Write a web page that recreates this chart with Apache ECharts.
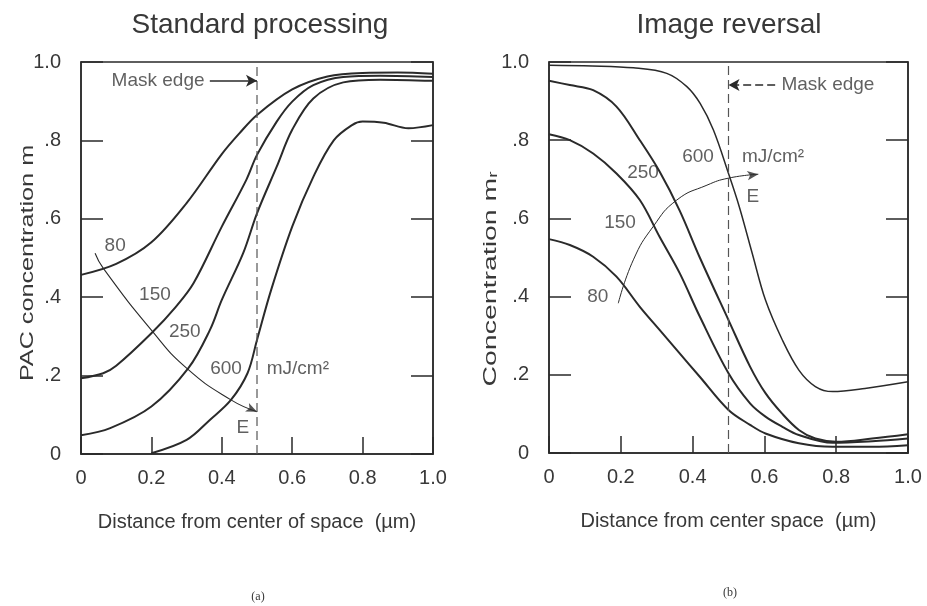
<!DOCTYPE html>
<html>
<head>
<meta charset="utf-8">
<script src="https://cdn.jsdelivr.net/npm/echarts@6/dist/echarts.min.js"></script>
<style>
html,body{margin:0;padding:0;background:#fff;}
#chart{width:927px;height:606px;}
</style>
</head>
<body>
<div id="chart"></div>
<script>
// ---------- data ----------
const xTickLabels = ['0', '0.2', '0.4', '0.6', '0.8', '1.0'];
const yTickLabels = ['0', '.2', '.4', '.6', '.8', '1.0'];

// (a) Standard processing: PAC concentration vs distance
const std80  = [[0,0.457],[0.1,0.485],[0.2,0.54],[0.3,0.64],[0.4,0.765],[0.45,0.818],[0.5,0.865],[0.6,0.93],[0.7,0.963],[0.8,0.972],[0.9,0.973],[1.0,0.97]];
const std150 = [[0,0.193],[0.063,0.206],[0.1,0.225],[0.2,0.308],[0.27,0.376],[0.32,0.436],[0.4,0.58],[0.47,0.70],[0.5,0.763],[0.556,0.848],[0.6,0.899],[0.66,0.941],[0.745,0.962],[0.85,0.965],[1.0,0.962]];
const std250 = [[0,0.048],[0.083,0.066],[0.2,0.121],[0.305,0.219],[0.366,0.316],[0.4,0.393],[0.461,0.513],[0.5,0.614],[0.556,0.733],[0.6,0.827],[0.66,0.907],[0.745,0.948],[0.85,0.955],[1.0,0.952]];
const std600 = [[0.2,0.002],[0.3,0.036],[0.366,0.087],[0.426,0.138],[0.473,0.206],[0.5,0.291],[0.54,0.418],[0.6,0.58],[0.66,0.707],[0.718,0.80],[0.77,0.839],[0.8,0.848],[0.86,0.845],[0.93,0.831],[1.0,0.839]];
const stdArrow = [[0.04,0.512],[0.063,0.474],[0.2,0.316],[0.3,0.219],[0.426,0.138],[0.5,0.108]];
const stdLabels = [[0.097,0.531,'80'],[0.21,0.406,'150'],[0.295,0.311,'250'],[0.412,0.217,'600'],[0.616,0.217,'mJ/cm²'],[0.46,0.066,'E'],[0.219,0.952,'Mask edge']];
const stdMaskArrow = [[0.366,0.952],[0.5,0.952]];

// (b) Image reversal: concentration m_r vs distance
const rev80  = [[0,0.547],[0.058,0.532],[0.123,0.502],[0.188,0.451],[0.253,0.374],[0.308,0.315],[0.364,0.255],[0.42,0.195],[0.5,0.11],[0.56,0.072],[0.603,0.05],[0.696,0.025],[0.79,0.016],[0.9,0.016],[1.0,0.02]];
const rev150 = [[0,0.815],[0.058,0.80],[0.123,0.766],[0.188,0.715],[0.253,0.647],[0.308,0.553],[0.364,0.46],[0.42,0.349],[0.5,0.204],[0.56,0.127],[0.603,0.093],[0.65,0.067],[0.696,0.046],[0.79,0.026],[0.9,0.03],[1.0,0.037]];
const rev250 = [[0,0.952],[0.058,0.941],[0.123,0.928],[0.188,0.886],[0.253,0.80],[0.308,0.72],[0.364,0.62],[0.42,0.50],[0.5,0.34],[0.56,0.221],[0.603,0.153],[0.65,0.10],[0.696,0.059],[0.742,0.037],[0.8,0.029],[0.9,0.037],[1.0,0.048]];
const rev600 = [[0,0.992],[0.12,0.99],[0.235,0.985],[0.328,0.971],[0.384,0.937],[0.421,0.894],[0.458,0.826],[0.5,0.715],[0.53,0.63],[0.566,0.511],[0.603,0.391],[0.65,0.289],[0.696,0.212],[0.742,0.17],[0.79,0.157],[0.88,0.165],[1.0,0.182]];
const revArrow = [[0.193,0.383],[0.235,0.494],[0.29,0.579],[0.356,0.647],[0.44,0.685],[0.5,0.703],[0.583,0.713]];
const revLabels = [[0.136,0.40,'80'],[0.198,0.588,'150'],[0.262,0.716,'250'],[0.415,0.757,'600'],[0.624,0.757,'mJ/cm²'],[0.568,0.655,'E'],[0.777,0.941,'Mask edge']];
const revMaskArrow = [[0.63,0.941],[0.5,0.941]];

const maskEdgeX = 0.5;

// ---------- styling ----------
const FONT = '"Liberation Sans", Arial, Helvetica, sans-serif';
const TXT = '#383838';
const LINE = '#2a2a2a';

const chart = echarts.init(document.getElementById('chart'), null, {renderer: 'canvas'});

function xAxisFor(gi, name) {
  return {
    gridIndex: gi, type: 'value', min: 0, max: 1, interval: 0.2,
    axisLine: {show: true, lineStyle: {color: LINE, width: 1.5}},
    axisTick: {show: true, inside: true, length: 17, lineStyle: {color: LINE, width: 1.5}},
    axisLabel: {formatter: v => xTickLabels[Math.round(v * 5)], fontSize: 20, color: TXT, margin: 14, fontFamily: FONT},
    splitLine: {show: false},
    name: name, nameLocation: 'middle', nameGap: 58,
    nameTextStyle: {fontSize: 20, color: TXT, fontFamily: FONT}
  };
}
function yAxisFor(gi, pos) {
  const left = pos === 'left';
  return {
    gridIndex: gi, type: 'value', min: 0, max: 1, interval: 0.2, position: pos,
    axisLine: {show: true, lineStyle: {color: LINE, width: 1.5}},
    axisTick: {show: true, inside: true, length: 22, lineStyle: {color: LINE, width: 1.5}},
    axisLabel: {show: left, formatter: v => yTickLabels[Math.round(v * 5)], fontSize: 20, color: TXT, margin: 20, fontFamily: FONT},
    splitLine: {show: false}
  };
}
function curve(data, xi, yi, w) {
  return {type: 'line', data: data, xAxisIndex: xi, yAxisIndex: yi, smooth: 0.35,
    showSymbol: false, silent: true, lineStyle: {color: LINE, width: w || 2}};
}
function labelSeries(data, xi, yi) {
  return {type: 'scatter', data: data, xAxisIndex: xi, yAxisIndex: yi, symbolSize: 1, silent: true,
    itemStyle: {color: 'rgba(0,0,0,0)'},
    label: {show: true, position: 'inside', formatter: p => p.data[2], fontSize: 19, color: TXT, fontFamily: FONT}};
}
function arrowHead(pt, rot, xi, yi) {
  return {type: 'scatter', data: [pt], xAxisIndex: xi, yAxisIndex: yi, symbol: 'arrow', symbolSize: [7, 11],
    symbolRotate: rot, silent: true, itemStyle: {color: LINE}};
}
function maskSeries(xi, yi, arrowPts, dashed) {
  return {type: 'line', data: [[maskEdgeX, 0], [maskEdgeX, 1]], xAxisIndex: xi, yAxisIndex: yi,
    showSymbol: false, silent: true, lineStyle: {color: '#555', width: 1.2, type: [9, 5]},
    markLine: {silent: true, symbol: ['none', 'arrow'], symbolSize: [9, 11], label: {show: false},
      lineStyle: {color: LINE, width: 1.5, type: dashed ? [8, 4] : 'solid'},
      data: [[{coord: arrowPts[0]}, {coord: arrowPts[1]}]]}};
}

function buildOption(rotA, rotB) {
  return {
    animation: false,
    backgroundColor: '#fff',
    textStyle: {fontFamily: FONT},
    title: [
      {text: 'Standard processing', left: 255, top: 6, textAlign: 'center',
        textStyle: {fontSize: 28, fontWeight: 'normal', color: TXT, fontFamily: FONT}},
      {text: 'Image reversal', left: 724, top: 6, textAlign: 'center',
        textStyle: {fontSize: 28, fontWeight: 'normal', color: TXT, fontFamily: FONT}}
    ],
    grid: [
      {left: 81, top: 62, width: 352, height: 392, show: true, borderColor: LINE, borderWidth: 1.5, backgroundColor: 'transparent'},
      {left: 549, top: 62, width: 359, height: 391, show: true, borderColor: LINE, borderWidth: 1.5, backgroundColor: 'transparent'}
    ],
    xAxis: [xAxisFor(0, 'Distance from center of space  (µm)'), xAxisFor(1, 'Distance from center space  (µm)')],
    yAxis: [yAxisFor(0, 'left'), yAxisFor(0, 'right'), yAxisFor(1, 'left'), yAxisFor(1, 'right')],
    graphic: [
      {type: 'text', x: 28, y: 263, rotation: Math.PI / 2, scaleX: 1.4, silent: true,
        style: {text: 'PAC concentration m', fontSize: 18, fontFamily: FONT, fill: TXT,
          align: 'center', verticalAlign: 'middle', textAlign: 'center', textVerticalAlign: 'middle'}},
      {type: 'text', x: 491, y: 279, rotation: Math.PI / 2, scaleX: 1.58, silent: true,
        style: {text: 'Concentration m{sub|r}', fontSize: 18, fontFamily: FONT, fill: TXT,
          align: 'center', verticalAlign: 'middle', textAlign: 'center', textVerticalAlign: 'middle',
          rich: {sub: {fontSize: 12, fontFamily: FONT, fill: TXT, padding: [6, 0, 0, 0]}}}},
      {type: 'text', x: 258, y: 597, silent: true,
        style: {text: '(a)', fontSize: 12, fontFamily: '"Liberation Serif", serif', fill: TXT,
          align: 'center', verticalAlign: 'middle', textAlign: 'center', textVerticalAlign: 'middle'}},
      {type: 'text', x: 730, y: 593, silent: true,
        style: {text: '(b)', fontSize: 12, fontFamily: '"Liberation Serif", serif', fill: TXT,
          align: 'center', verticalAlign: 'middle', textAlign: 'center', textVerticalAlign: 'middle'}}
    ],
    series: [
      curve(std80, 0, 0), curve(std150, 0, 0), curve(std250, 0, 0), curve(std600, 0, 0),
      {type: 'line', data: stdArrow, xAxisIndex: 0, yAxisIndex: 0, smooth: 0.5, showSymbol: false, silent: true,
        lineStyle: {color: LINE, width: 1.1}},
      arrowHead(stdArrow[stdArrow.length - 1], rotA, 0, 0),
      maskSeries(0, 0, stdMaskArrow, false),
      labelSeries(stdLabels, 0, 0),

      curve(rev80, 1, 2), curve(rev150, 1, 2), curve(rev250, 1, 2), curve(rev600, 1, 2, 1.5),
      {type: 'line', data: revArrow, xAxisIndex: 1, yAxisIndex: 2, smooth: 0.5, showSymbol: false, silent: true,
        lineStyle: {color: LINE, width: 1}},
      arrowHead(revArrow[revArrow.length - 1], rotB, 1, 2),
      maskSeries(1, 2, revMaskArrow, true),
      labelSeries(revLabels, 1, 2)
    ]
  };
}

chart.setOption(buildOption(-90, -90));

function rotFor(arr, gi) {
  const a = chart.convertToPixel({gridIndex: gi}, arr[arr.length - 2]);
  const b = chart.convertToPixel({gridIndex: gi}, arr[arr.length - 1]);
  const ang = Math.atan2(a[1] - b[1], b[0] - a[0]) * 180 / Math.PI;
  return ang - 90;
}
chart.setOption(buildOption(rotFor(stdArrow, 0), rotFor(revArrow, 1)));
</script>
</body>
</html>
